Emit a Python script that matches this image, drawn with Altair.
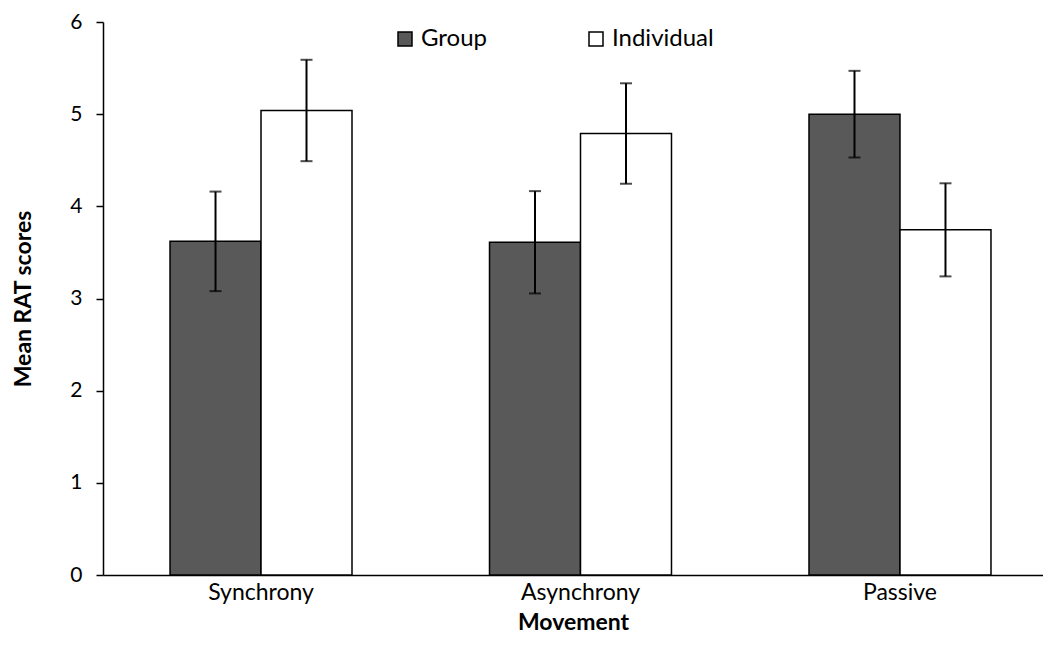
import altair as alt
import pandas as pd

movement = ["Synchrony", "Asynchrony", "Passive"]
conditions = ["Group", "Individual"]
group_mean = [3.62, 3.61, 5.00]
group_err = [0.54, 0.555, 0.47]
indiv_mean = [5.04, 4.79, 3.745]
indiv_err = [0.55, 0.545, 0.505]

rows = []
for i, m in enumerate(movement):
    rows.append(dict(Movement=m, Condition="Group", mean=group_mean[i],
                     lo=group_mean[i] - group_err[i], hi=group_mean[i] + group_err[i]))
    rows.append(dict(Movement=m, Condition="Individual", mean=indiv_mean[i],
                     lo=indiv_mean[i] - indiv_err[i], hi=indiv_mean[i] + indiv_err[i]))
df = pd.DataFrame(rows)

FONT = "Lato"

xenc = alt.X(
    "Movement:N", sort=movement,
    scale=alt.Scale(paddingInner=0.4304, paddingOuter=0.1863, align=0.563),
    axis=alt.Axis(title="Movement", labelAngle=0, ticks=False, labelPadding=6,
                  labelFontSize=23, labelFont=FONT, labelColor="black",
                  titleFontSize=23, titleFont=FONT, titleFontWeight="bold",
                  titleColor="black", titlePadding=7,
                  domainColor="black", domainWidth=1.5),
)
xoff = alt.XOffset("Condition:N", sort=conditions,
                   scale=alt.Scale(paddingInner=0, paddingOuter=0))
yscale = alt.Scale(domain=[0, 6])

base = alt.Chart(df).encode(x=xenc, xOffset=xoff)

bars = base.mark_bar(stroke="black", strokeWidth=1.5).encode(
    y=alt.Y("mean:Q", scale=yscale,
            axis=alt.Axis(title="Mean RAT scores", values=[0, 1, 2, 3, 4, 5, 6],
                          format="d",
                          grid=False, tickSize=7, tickColor="black", tickWidth=1.5,
                          domainColor="black", domainWidth=1.5,
                          labelFontSize=21, labelFont=FONT, labelColor="black",
                          labelPadding=14,
                          titleFontSize=23, titleFont=FONT, titleFontWeight="bold",
                          titleColor="black", titlePadding=34)),
    color=alt.Color("Condition:N", sort=conditions,
                    scale=alt.Scale(domain=conditions, range=["#595959", "#ffffff"]),
                    legend=alt.Legend(title=None, orient="none", direction="horizontal",
                                      legendX=290, legendY=5,
                                      symbolType="square", symbolSize=196,
                                      symbolStrokeColor="black", symbolStrokeWidth=1.5,
                                      labelFontSize=24, labelFont=FONT, labelColor="black",
                                      labelOffset=4, columnPadding=96, padding=0)),
)

rules = base.mark_rule(strokeWidth=2, color="black").encode(
    y=alt.Y("lo:Q", scale=yscale), y2="hi:Q")
cap_hi = base.mark_tick(size=12, thickness=2, color="black").encode(
    y=alt.Y("hi:Q", scale=yscale))
cap_lo = base.mark_tick(size=12, thickness=2, color="black").encode(
    y=alt.Y("lo:Q", scale=yscale))

chart = alt.layer(bars, rules, cap_hi, cap_lo).properties(
    width=940, height=553,
    autosize=alt.AutoSizeParams(type="none"),
    padding={"left": 95, "top": 14, "right": 0, "bottom": 62},
    background="white",
).configure_view(strokeWidth=0)

chart.save("out.html", embed_options={"renderer": "svg", "actions": False})
